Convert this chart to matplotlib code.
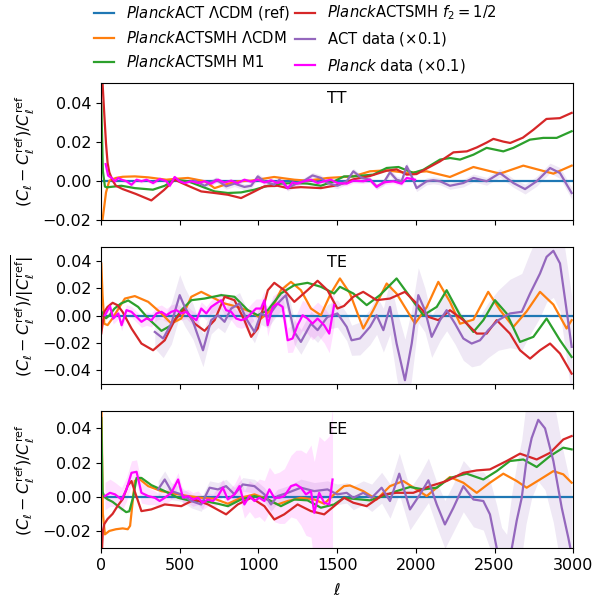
import matplotlib
matplotlib.use('Agg')
import matplotlib.pyplot as plt
import numpy as np

plt.rcParams['font.size'] = 11.5
plt.rcParams['mathtext.fontset'] = 'dejavusans'

# ---- TT ----
ref_tt = [[2, 0.0], [3000, 0.0]]
orange_tt = [[2, -0.03], [10, -0.02], [21, -0.013], [32, -0.006], [53, 0.0], [95, 0.0014], [138, 0.002],
             [215, 0.0022], [300, 0.0017], [415, 0.0005], [468, 0.0009], [553, 0.0014], [660, -0.0003],
             [722, -0.0038], [785, -0.0021], [869, -0.0003], [954, 0.0], [1100, 0.0019], [1228, 0.0005],
             [1312, 0.0], [1440, 0.0014], [1544, 0.0019], [1603, 0.0022], [1709, 0.0048], [1815, 0.0053],
             [1942, 0.004], [2069, 0.0048], [2217, 0.0019], [2366, 0.007], [2535, 0.0036], [2683, 0.0077],
             [2874, 0.0036], [2990, 0.0077]]
green_tt = [[2, 0.04], [12, 0.005], [25, -0.003], [36, -0.0034], [130, -0.0026], [215, -0.0038],
            [330, -0.0046], [405, -0.0026], [468, 0.0005], [553, -0.0003], [637, -0.0029], [722, -0.0055],
            [806, -0.0063], [890, -0.006], [975, -0.0046], [1060, -0.0026], [1143, -0.0015], [1228, -0.0012],
            [1312, -0.0015], [1397, -0.0026], [1481, -0.0003], [1544, 0.0022], [1603, 0.0022], [1730, 0.0031],
            [1815, 0.0065], [1890, 0.007], [1984, 0.004], [2048, 0.0056], [2154, 0.0108], [2218, 0.0116],
            [2281, 0.0108], [2366, 0.0133], [2450, 0.0168], [2556, 0.015], [2620, 0.0168], [2725, 0.021],
            [2810, 0.0219], [2895, 0.0219], [2990, 0.0253]]
red_tt = [[2, 0.07], [10, 0.05], [21, 0.034], [32, 0.019], [42, 0.009], [53, 0.0043], [74, 0.0],
          [95, -0.0026], [138, -0.0043], [222, -0.0068], [320, -0.0101], [400, -0.0048], [468, 0.0005],
          [553, -0.0026], [637, -0.0055], [722, -0.0063], [806, -0.0072], [890, -0.0089], [975, -0.0055],
          [1038, -0.0029], [1122, -0.0026], [1186, -0.0038], [1270, -0.0033], [1397, -0.0038], [1481, -0.0026],
          [1544, -0.0012], [1603, 0.0007], [1709, 0.0024], [1815, 0.0051], [1878, 0.0058], [1942, 0.0031],
          [2005, 0.0034], [2069, 0.0062], [2154, 0.0099], [2239, 0.0145], [2324, 0.015], [2387, 0.017],
          [2450, 0.0195], [2493, 0.0214], [2556, 0.02], [2600, 0.0193], [2680, 0.022], [2746, 0.026],
          [2830, 0.0316], [2915, 0.032], [2990, 0.0347]]
act_tt = [[595, 0.0, 0.0015], [658, -0.0026, 0.0015], [732, 0.0005, 0.0015], [795, -0.0029, 0.0015],
          [848, -0.0015, 0.0015], [911, -0.0032, 0.0015], [954, -0.0026, 0.0015], [996, 0.0022, 0.0015],
          [1038, -0.0003, 0.0015], [1101, -0.0021, 0.0015], [1133, 0.0005, 0.0015], [1186, -0.0038, 0.0015],
          [1249, -0.0012, 0.0015], [1291, 0.0, 0.0015], [1344, 0.0027, 0.0015], [1397, 0.0014, 0.0015],
          [1439, -0.0012, 0.0015], [1502, -0.0026, 0.0015], [1561, -0.0003, 0.0015], [1603, 0.0048, 0.0015],
          [1656, 0.0014, 0.0015], [1709, 0.0005, 0.0015], [1751, -0.0029, 0.0015], [1794, -0.0012, 0.0015],
          [1836, 0.0043, 0.0018], [1878, 0.0005, 0.0018], [1910, -0.0003, 0.0018], [1942, 0.0074, 0.0018],
          [1974, 0.0022, 0.0018], [2005, -0.0038, 0.0018], [2069, -0.0003, 0.0018], [2111, 0.0002, 0.0018],
          [2154, -0.0003, 0.0018], [2217, -0.0026, 0.0018], [2302, -0.0012, 0.002], [2366, 0.0014, 0.002],
          [2450, -0.0003, 0.002], [2535, 0.0039, 0.0022], [2620, -0.0012, 0.0022], [2694, -0.0043, 0.0025],
          [2768, -0.0003, 0.0025], [2853, 0.0065, 0.0025], [2916, 0.0039, 0.0028], [2990, -0.0063, 0.003]]
planck_tt = [[30, 0.0085, 0.002], [45, 0.0026, 0.0015], [68, 0.0014, 0.001], [89, -0.0003, 0.001],
             [110, 0.0014, 0.001], [131, 0.0005, 0.001], [162, -0.0003, 0.001], [194, -0.0021, 0.001],
             [226, 0.0005, 0.001], [257, -0.0003, 0.001], [289, 0.0005, 0.001], [331, -0.0012, 0.001],
             [373, 0.0009, 0.001], [416, -0.0003, 0.001], [437, -0.0026, 0.001], [468, 0.0019, 0.001],
             [500, -0.0003, 0.001], [532, -0.0012, 0.001], [574, -0.0003, 0.001], [616, -0.0012, 0.001],
             [658, -0.0003, 0.001], [700, -0.0015, 0.001], [743, 0.0005, 0.001], [785, -0.0009, 0.001],
             [827, 0.0, 0.001], [869, -0.0012, 0.001], [911, 0.0005, 0.001], [954, -0.0005, 0.001],
             [996, 0.0005, 0.001], [1038, -0.0009, 0.001], [1080, 0.0002, 0.001], [1122, -0.0012, 0.001],
             [1154, -0.0003, 0.001], [1186, -0.0038, 0.001], [1217, -0.0009, 0.001], [1249, -0.0015, 0.001],
             [1291, -0.0003, 0.001], [1334, 0.0005, 0.001], [1376, -0.0012, 0.001], [1418, -0.0003, 0.001],
             [1460, 0.0005, 0.001], [1502, -0.0012, 0.001], [1561, -0.0015, 0.0012], [1603, 0.0, 0.0012],
             [1666, -0.0003, 0.0012], [1709, 0.0005, 0.0012], [1751, -0.0032, 0.0012], [1794, -0.0009, 0.0012],
             [1857, -0.0003, 0.0012], [1910, -0.0015, 0.0012], [1942, 0.0014, 0.0012], [1974, 0.0009, 0.0012],
             [1995, 0.0005, 0.0012]]

# ---- TE ----
ref_te = [[2, 0.0], [3000, 0.0]]
orange_te = [[2, 0.038], [10, 0.015], [21, -0.006], [42, -0.007], [74, -0.002], [116, 0.006], [152, 0.0124],
             [215, 0.0142], [300, 0.01], [384, 0.0015], [447, -0.0059], [510, -0.0022], [574, 0.0137],
             [637, 0.0173], [700, 0.0137], [785, 0.0088], [869, 0.0063], [954, 0.0027], [1017, -0.0022],
             [1080, 0.0039], [1143, 0.0185], [1207, 0.0246], [1270, 0.0185], [1334, 0.0051], [1397, 0.0002],
             [1460, 0.0161], [1518, 0.0271], [1582, 0.0161], [1666, -0.0095], [1730, 0.004], [1815, 0.0234],
             [1878, 0.016], [1942, 0.004], [1995, -0.0059], [2069, 0.006], [2143, 0.0246], [2217, 0.01],
             [2281, -0.006], [2366, -0.003], [2460, 0.0173], [2535, 0.004], [2620, -0.0083], [2704, 0.003],
             [2789, 0.0173], [2874, 0.008], [2958, -0.0095], [2990, -0.0034]]
green_te = [[2, 0.003], [32, -0.002], [53, 0.0], [85, 0.005], [127, 0.0088], [173, 0.011], [236, 0.0063],
            [300, -0.0022], [384, -0.0112], [447, -0.0071], [510, 0.0039], [574, 0.0112], [658, 0.0124],
            [764, 0.0149], [848, 0.0137], [933, 0.0039], [996, 0.0002], [1060, 0.0039], [1143, 0.0161],
            [1228, 0.0222], [1312, 0.0239], [1397, 0.021], [1481, 0.0161], [1518, 0.021], [1603, 0.0161],
            [1688, 0.0076], [1772, 0.0149], [1878, 0.0271], [1963, 0.0137], [2048, 0.0002], [2133, 0.0063],
            [2196, 0.0185], [2281, 0.0002], [2366, -0.012], [2429, -0.0034], [2503, 0.0112], [2577, 0.0015],
            [2662, -0.0193], [2747, -0.0156], [2831, -0.0022], [2916, -0.0181], [2990, -0.0303]]
red_te = [[2, -0.013], [21, 0.0027], [42, 0.0063], [74, 0.0093], [106, 0.0075], [138, 0.0025], [194, -0.0095],
          [257, -0.0205], [331, -0.0254], [405, -0.0181], [468, -0.0034], [532, 0.0051], [595, -0.0059],
          [658, -0.0112], [722, -0.0034], [785, 0.0137], [848, 0.0112], [911, -0.0034], [954, -0.0156],
          [996, -0.0095], [1060, 0.0185], [1101, 0.0239], [1164, 0.0185], [1228, 0.01], [1312, 0.0185],
          [1376, 0.0254], [1439, 0.0185], [1502, 0.0051], [1544, 0.007], [1603, 0.0137], [1666, 0.0173],
          [1751, 0.0112], [1836, 0.0124], [1931, 0.0173], [2005, 0.0088], [2080, -0.001], [2143, -0.0034],
          [2217, 0.0039], [2302, -0.0034], [2387, -0.0132], [2450, -0.0132], [2514, -0.0034], [2598, -0.0132],
          [2662, -0.0254], [2726, -0.0315], [2789, -0.0254], [2853, -0.0205], [2916, -0.0278], [2990, -0.0425]]
act_te = [[342, -0.012, 0.012], [395, -0.0168, 0.014], [447, -0.0059, 0.015], [500, 0.0149, 0.015],
          [532, 0.0063, 0.014], [585, -0.0046, 0.013], [648, -0.0254, 0.012], [700, -0.0034, 0.01],
          [743, 0.0002, 0.009], [785, -0.0046, 0.008], [827, 0.0051, 0.008], [880, 0.0088, 0.008],
          [922, -0.0022, 0.008], [975, -0.012, 0.008], [1017, 0.0015, 0.008], [1060, -0.001, 0.008],
          [1122, 0.0088, 0.008], [1175, 0.0149, 0.009], [1228, -0.012, 0.009], [1270, -0.0193, 0.009],
          [1334, -0.0059, 0.009], [1376, -0.0107, 0.009], [1439, -0.001, 0.009], [1502, 0.0015, 0.01],
          [1561, -0.0083, 0.01], [1592, -0.0181, 0.011], [1645, -0.0168, 0.012], [1709, -0.0083, 0.013],
          [1751, 0.0002, 0.014], [1794, -0.0107, 0.016], [1836, 0.0063, 0.02], [1878, -0.0205, 0.025],
          [1931, -0.0473, 0.03], [1974, -0.0205, 0.025], [2016, 0.0149, 0.02], [2058, 0.0039, 0.016],
          [2101, -0.0156, 0.015], [2154, -0.0034, 0.015], [2196, 0.0039, 0.015], [2249, -0.0059, 0.015],
          [2302, -0.0168, 0.016], [2355, -0.0205, 0.017], [2408, -0.0181, 0.018], [2460, -0.0107, 0.02],
          [2524, -0.0034, 0.022], [2598, 0.0015, 0.025], [2673, 0.0027, 0.028], [2726, 0.0161, 0.03],
          [2789, 0.0307, 0.032], [2831, 0.0429, 0.033], [2874, 0.0473, 0.034], [2916, 0.0381, 0.035],
          [2958, 0.0039, 0.036], [2990, -0.0229, 0.037]]
planck_te = [[25, 0.0002, 0.004], [57, 0.0068, 0.004], [78, -0.0022, 0.004], [110, 0.0015, 0.004],
             [131, -0.0071, 0.004], [162, 0.0039, 0.004], [194, 0.0027, 0.004], [226, -0.001, 0.004],
             [257, -0.0046, 0.004], [289, -0.0022, 0.005], [321, -0.0034, 0.005], [352, 0.0015, 0.005],
             [384, 0.0027, 0.005], [416, 0.0002, 0.005], [447, 0.0027, 0.005], [479, 0.0039, 0.005],
             [511, 0.0015, 0.005], [542, 0.0027, 0.005], [574, -0.001, 0.005], [606, -0.0034, 0.005],
             [637, 0.0051, 0.005], [669, 0.0015, 0.005], [700, 0.0063, 0.005], [732, 0.0088, 0.006],
             [764, 0.0112, 0.006], [795, 0.0039, 0.006], [827, 0.0027, 0.006], [859, -0.0022, 0.006],
             [890, -0.0034, 0.006], [922, -0.0022, 0.006], [954, 0.0015, 0.007], [985, 0.0051, 0.007],
             [1017, 0.0051, 0.007], [1038, 0.0112, 0.007], [1059, -0.0071, 0.008], [1091, 0.0063, 0.008],
             [1122, 0.0088, 0.008], [1154, 0.0063, 0.009], [1186, -0.0181, 0.009], [1217, -0.0168, 0.01],
             [1249, -0.0071, 0.01], [1281, 0.0002, 0.011], [1312, -0.0022, 0.011], [1344, -0.0059, 0.012],
             [1376, -0.0022, 0.012], [1418, -0.0071, 0.013], [1450, -0.0132, 0.014], [1481, 0.0076, 0.015]]

# ---- EE ----
ref_ee = [[2, 0.0], [3000, 0.0]]
orange_ee = [[2, 0.06], [12, -0.01], [25, -0.022], [53, -0.02], [95, -0.019], [138, -0.0185], [170, -0.019],
             [185, -0.017], [200, -0.004], [215, 0.0092], [236, 0.011], [300, 0.0062], [384, 0.0033],
             [468, 0.0018], [553, 0.0004], [637, -0.0006], [722, -0.0012], [806, -0.0041], [890, -0.0006],
             [975, 0.0014], [1060, -0.0016], [1122, -0.0045], [1186, -0.0025], [1270, -0.0006],
             [1355, -0.0016], [1418, -0.0041], [1481, 0.0014], [1544, 0.0062], [1582, 0.0066], [1666, 0.0033],
             [1751, -0.0016], [1836, 0.0062], [1920, 0.0092], [2005, 0.0043], [2069, 0.0004], [2133, 0.0053],
             [2217, 0.0115], [2302, 0.0082], [2387, 0.0023], [2471, 0.0082], [2556, 0.0135], [2641, 0.0092],
             [2704, 0.0053], [2789, 0.0101], [2874, 0.015], [2937, 0.0131], [2990, 0.0082]]
green_ee = [[2, 0.046], [10, 0.003], [21, 0.0], [42, -0.0015], [74, -0.003], [116, -0.006], [160, -0.009],
            [180, -0.0085], [205, 0.0], [226, 0.011], [257, 0.011], [320, 0.0068], [405, 0.0033],
            [490, -0.0006], [574, -0.0025], [658, -0.0025], [743, -0.0041], [806, -0.0055], [890, -0.0016],
            [975, 0.0004], [1060, -0.0016], [1143, -0.0055], [1228, -0.0016], [1312, -0.0021],
            [1397, -0.0064], [1481, -0.0045], [1544, -0.0006], [1603, -0.0012], [1709, -0.0021],
            [1794, 0.0004], [1878, 0.0033], [1963, 0.0057], [2048, 0.0043], [2133, 0.0053], [2217, 0.011],
            [2323, 0.0135], [2429, 0.0101], [2514, 0.015], [2598, 0.0209], [2683, 0.0218], [2768, 0.0174],
            [2853, 0.0238], [2937, 0.0287], [2990, 0.0277]]
red_ee = [[2, -0.04], [12, -0.02], [21, -0.016], [42, -0.013], [74, -0.01], [106, -0.0053], [138, -0.0014],
          [170, 0.0065], [194, 0.0092], [215, 0.003], [257, -0.0084], [320, -0.0074], [405, -0.0045],
          [510, -0.0055], [595, -0.0016], [680, -0.0045], [795, -0.0103], [869, -0.0045], [954, -0.0006],
          [1038, -0.0055], [1101, -0.0133], [1164, -0.0103], [1249, -0.0045], [1334, -0.0084],
          [1418, -0.0103], [1481, -0.0055], [1544, -0.0006], [1603, -0.0035], [1688, -0.0055],
          [1794, 0.0014], [1878, 0.0023], [1984, 0.0023], [2090, 0.0062], [2196, 0.0092], [2302, 0.014],
          [2387, 0.0154], [2471, 0.016], [2577, 0.0209], [2662, 0.0252], [2768, 0.0218], [2853, 0.0257],
          [2937, 0.0335], [2990, 0.0355]]
act_ee = [[363, 0.0043, 0.005], [405, 0.0101, 0.005], [447, 0.0033, 0.005], [510, 0.0014, 0.004],
          [574, -0.0025, 0.004], [637, -0.0045, 0.004], [690, 0.0053, 0.004], [743, 0.0043, 0.004],
          [795, 0.0062, 0.004], [848, 0.0014, 0.004], [901, 0.0072, 0.004], [975, 0.0062, 0.004],
          [1038, 0.0014, 0.004], [1080, -0.0045, 0.004], [1122, 0.0004, 0.004], [1186, 0.0023, 0.004],
          [1270, 0.0053, 0.005], [1355, 0.0033, 0.005], [1439, 0.0043, 0.005], [1502, 0.0014, 0.006],
          [1561, 0.0023, 0.006], [1603, -0.0006, 0.007], [1666, 0.0023, 0.007], [1720, -0.0006, 0.008],
          [1783, 0.0053, 0.009], [1836, -0.0025, 0.01], [1895, 0.0135, 0.012], [1963, -0.0074, 0.012],
          [2027, 0.0014, 0.012], [2080, 0.0096, 0.013], [2133, -0.0045, 0.013], [2185, -0.0162, 0.014],
          [2239, -0.0064, 0.014], [2302, 0.0062, 0.015], [2366, -0.0016, 0.016], [2429, -0.0025, 0.017],
          [2471, -0.0103, 0.02], [2514, -0.03, 0.025], [2545, -0.048, 0.03], [2577, -0.052, 0.03],
          [2610, -0.03, 0.032], [2641, -0.014, 0.033], [2673, -0.0006, 0.034], [2700, 0.019, 0.035],
          [2736, 0.0343, 0.035], [2778, 0.045, 0.036], [2821, 0.040, 0.036], [2874, 0.0209, 0.036],
          [2927, -0.0064, 0.037], [2969, -0.024, 0.037], [2990, -0.0337, 0.038]]
planck_ee = [[25, 0.0004, 0.008], [57, 0.0023, 0.008], [89, 0.0014, 0.007], [131, -0.0016, 0.007],
             [162, 0.0043, 0.007], [194, 0.014, 0.007], [226, 0.0146, 0.007], [257, 0.0023, 0.006],
             [300, 0.0004, 0.005], [342, -0.0006, 0.004], [373, -0.0025, 0.004], [405, -0.0006, 0.004],
             [447, 0.0023, 0.004], [490, 0.0101, 0.004], [521, -0.0006, 0.004], [553, 0.0004, 0.004],
             [584, -0.0016, 0.004], [616, -0.0006, 0.004], [648, -0.0035, 0.004], [679, -0.0016, 0.004],
             [711, -0.0025, 0.004], [743, 0.0004, 0.005], [774, 0.0053, 0.005], [806, -0.0016, 0.005],
             [848, 0.0014, 0.006], [880, 0.0062, 0.007], [911, -0.0045, 0.008], [943, 0.0004, 0.009],
             [975, -0.0025, 0.01], [1006, -0.0006, 0.011], [1038, -0.0025, 0.012], [1070, 0.0043, 0.013],
             [1101, -0.0006, 0.014], [1133, -0.0006, 0.015], [1165, 0.0004, 0.016], [1207, 0.0062, 0.018],
             [1239, 0.0072, 0.02], [1270, 0.0053, 0.022], [1302, 0.0014, 0.024], [1334, 0.0033, 0.027],
             [1355, -0.0094, 0.03], [1386, 0.0023, 0.033], [1418, -0.0035, 0.036], [1450, -0.0045, 0.04],
             [1471, 0.0101, 0.042]]

labels = [r'$\mathit{Planck}$ACT $\Lambda$CDM (ref)', r'$\mathit{Planck}$ACTSMH $\Lambda$CDM',
          r'$\mathit{Planck}$ACTSMH M1', r'$\mathit{Planck}$ACTSMH $f_2=1/2$',
          r'ACT data ($\times0.1$)', r'$\mathit{Planck}$ data ($\times0.1$)']
colors = ['#1f77b4', '#ff7f0e', '#2ca02c', '#d62728', '#9467bd', '#ff00ff']

panels = [
    ('TT', [ref_tt, orange_tt, green_tt, red_tt], act_tt, planck_tt, (-0.02, 0.05), 0.89),
    ('TE', [ref_te, orange_te, green_te, red_te], act_te, planck_te, (-0.05, 0.05), 0.89),
    ('EE', [ref_ee, orange_ee, green_ee, red_ee], act_ee, planck_ee, (-0.03, 0.05), 0.87),
]
ylabels = [r'$(C_\ell - C_\ell^{\rm ref})/C_\ell^{\rm ref}$',
           r'$(C_\ell - C_\ell^{\rm ref})/\overline{|C_\ell^{\rm ref}|}$',
           r'$(C_\ell - C_\ell^{\rm ref})/C_\ell^{\rm ref}$']

fig, axes = plt.subplots(3, 1, figsize=(5.94, 5.97), dpi=100, sharex=True)
fig.subplots_adjust(left=0.170, right=0.965, top=0.861, bottom=0.082, hspace=0.2)

for ax, (name, models, act, planck, ylim, ty), ylab in zip(axes, panels, ylabels):
    for i, m in enumerate(models):
        m = np.array(m)
        ax.plot(m[:, 0], m[:, 1], color=colors[i], lw=1.6, label=labels[i])
    a = np.array(act)
    ax.fill_between(a[:, 0], a[:, 1] - a[:, 2], a[:, 1] + a[:, 2], color=colors[4], alpha=0.15, lw=0)
    ax.plot(a[:, 0], a[:, 1], color=colors[4], lw=1.6, label=labels[4])
    p = np.array(planck)
    ax.fill_between(p[:, 0], p[:, 1] - p[:, 2], p[:, 1] + p[:, 2], color=colors[5], alpha=0.12, lw=0)
    ax.plot(p[:, 0], p[:, 1], color=colors[5], lw=1.6, label=labels[5])
    ax.set_ylim(*ylim)
    ax.set_ylabel(ylab)
    ax.text(0.5, ty, name, transform=ax.transAxes, ha='center', va='center')

axes[0].set_yticks([-0.02, 0.0, 0.02, 0.04])
axes[1].set_yticks([-0.04, -0.02, 0.0, 0.02, 0.04])
axes[2].set_yticks([-0.02, 0.0, 0.02, 0.04])
axes[2].set_xlim(0, 3000)
axes[2].set_xticks([0, 500, 1000, 1500, 2000, 2500, 3000])
axes[2].set_xlabel(r'$\ell$', labelpad=7)
fig.align_ylabels(axes)

handles, labs = axes[0].get_legend_handles_labels()
fig.legend(handles, labs, loc='upper center', bbox_to_anchor=(0.497, 1.016), ncol=2, frameon=False,
           fontsize=10.6, handlelength=1.36, handletextpad=0.8, columnspacing=0.35, labelspacing=0.55)

plt.savefig('out.png', dpi=100)
